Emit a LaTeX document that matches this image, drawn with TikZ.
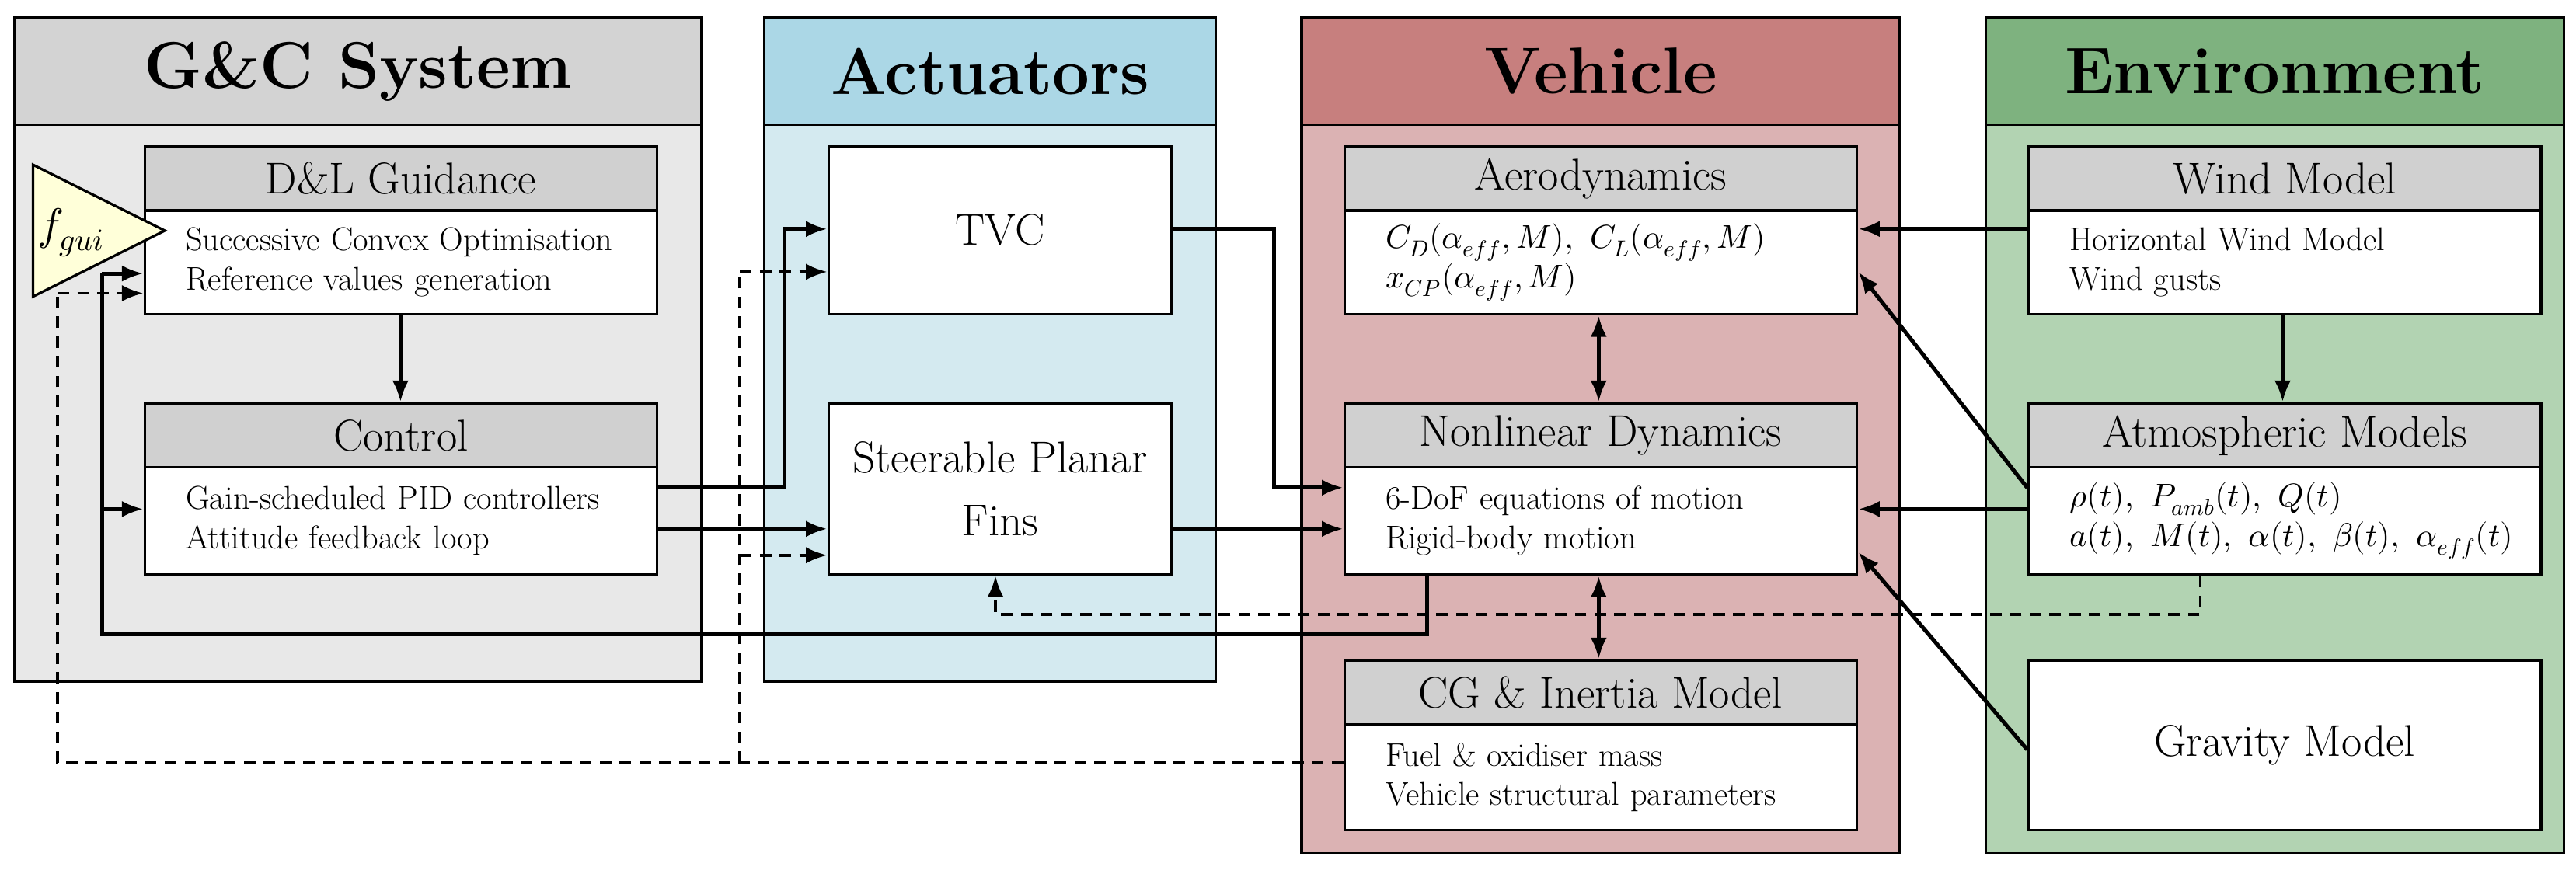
\documentclass[tikz,border=0pt]{standalone}
\usepackage{fontspec}
\usepackage{unicode-math}
\setmathfont{Latin Modern Math}
\usetikzlibrary{arrows.meta,shapes.geometric}
\definecolor{gch}{HTML}{D3D3D3}\definecolor{gcb}{HTML}{E8E8E8}
\definecolor{ach}{HTML}{ABD7E6}\definecolor{acb}{HTML}{D4EAF0}
\definecolor{veh}{HTML}{C77F7E}\definecolor{veb}{HTML}{DBB2B3}
\definecolor{enh}{HTML}{7EB27F}\definecolor{enb}{HTML}{B2D3B2}
\definecolor{hdr}{HTML}{D0D0D0}\definecolor{tri}{HTML}{FFFFD9}
\tikzset{
 panel/.style={draw,line width=1.5pt,anchor=north west,inner sep=0pt},
 ptitle/.style={panel,font=\fontsize{40}{44}\selectfont\bfseries},
 bhead/.style={draw,line width=1.5pt,fill=hdr,anchor=north west,inner sep=0pt,minimum width=311pt,minimum height=39pt,font=\fontsize{27}{30}\selectfont},
 bbody/.style={draw,line width=1.5pt,fill=white,anchor=north west,inner ysep=0pt,inner xsep=25pt,minimum width=311pt,text width=261pt,align=left,font=\fontsize{20}{24}\selectfont},
 plain/.style={draw,line width=1.5pt,fill=white,anchor=north west,inner sep=0pt,align=center,font=\fontsize{27}{38}\selectfont},
 ar/.style={line width=2.4pt,-{Latex[length=13pt,width=10pt]}},
 da/.style={line width=1.8pt,dash pattern=on 7pt off 5pt},
 dda/.style={da,-{Latex[length=13pt,width=10pt]}},
 ln/.style={line width=2.4pt},
}
\begin{document}
\begin{tikzpicture}[x=1pt,y=-1pt]
\useasboundingbox (0,0) rectangle (1563,528);
% panels
\node[panel,fill=gcb,minimum width=417pt,minimum height=403pt] (P1) at (8,10) {};
\node[ptitle,fill=gch,minimum width=417pt,minimum height=65pt] (T1) at (8,10) {G\&C System};
\node[panel,fill=acb,minimum width=274pt,minimum height=403pt] (P2) at (463,10) {};
\node[ptitle,fill=ach,minimum width=274pt,minimum height=65pt] (T2) at (463,10) {Actuators};
\node[panel,fill=veb,minimum width=363pt,minimum height=507pt] (P3) at (789,10) {};
\node[ptitle,fill=veh,minimum width=363pt,minimum height=65pt] (T3) at (789,10) {Vehicle};
\node[panel,fill=enb,minimum width=351pt,minimum height=507pt] (P4) at (1204,10) {};
\node[ptitle,fill=enh,minimum width=351pt,minimum height=65pt] (T4) at (1204,10) {Environment};
% G&C boxes
\node[bhead] (gh) at (87,88) {D\&L Guidance};
\node[bbody,minimum height=63pt] (g) at (87,127) {Successive Convex Optimisation\\Reference values generation};
\node[bhead] (ch) at (87,244) {Control};
\node[bbody,minimum height=65pt] (c) at (87,283) {Gain-scheduled PID controllers\\Attitude feedback loop};
\draw[line width=1.5pt,fill=tri] (20,100) -- (100,140) -- (20,180) -- cycle;
\node[font=\fontsize{27}{30}\selectfont] (f) at (43,141) {$f_{gui}$};
% actuators
\node[plain,minimum width=208pt,minimum height=102pt] (tvc) at (502,88) {TVC};
\node[plain,minimum width=208pt,minimum height=104pt] (fins) at (502,244) {Steerable Planar\\Fins};
% vehicle
\node[bhead] (ah) at (815,88) {Aerodynamics};
\node[bbody,minimum height=63pt] (a) at (815,127) {$C_D(\alpha_{eff},M),\ C_L(\alpha_{eff},M)$\\$x_{CP}(\alpha_{eff},M)$};
\node[bhead] (nh) at (815,244) {Nonlinear Dynamics};
\node[bbody,minimum height=65pt] (n) at (815,283) {6-DoF equations of motion\\Rigid-body motion};
\node[bhead] (cgh) at (815,400) {CG \& Inertia Model};
\node[bbody,minimum height=64pt] (cg) at (815,439) {Fuel \& oxidiser mass\\Vehicle structural parameters};
% environment
\node[bhead] (wh) at (1230,88) {Wind Model};
\node[bbody,minimum height=63pt] (w) at (1230,127) {Horizontal Wind Model\\Wind gusts};
\node[bhead] (amh) at (1230,244) {Atmospheric Models};
\node[bbody,minimum height=65pt] (am) at (1230,283) {$\rho(t),\ P_{amb}(t),\ Q(t)$\\$a(t),\ M(t),\ \alpha(t),\ \beta(t),\ \alpha_{eff}(t)$};
\node[plain,minimum width=311pt,minimum height=103pt] (grav) at (1230,400) {Gravity Model};
% solid connectors
\draw[ar] (g.south -| 243,0) -- (ch.north -| 243,0);
\draw[ar] (c.east |- 0,296) -- (476,296) -- (476,139) -- (tvc.west |- 0,139);
\draw[ar] (c.east |- 0,321) -- (fins.west |- 0,321);
\draw[ar] (tvc.east |- 0,139) -- (773,139) -- (773,296) -- (n.west |- 0,296);
\draw[ar] (fins.east |- 0,321) -- (n.west |- 0,321);
\draw[ln] (n.south -| 866,0) -- (866,385) -- (62,385) -- (62,166);
\draw[ar] (62,166) -- (g.west |- 0,166);
\draw[ar] (62,309) -- (c.west |- 0,309);
\draw[ar,{Latex[length=13pt,width=10pt]}-{Latex[length=13pt,width=10pt]}] (a.south -| 970,0) -- (nh.north -| 970,0);
\draw[ar,{Latex[length=13pt,width=10pt]}-{Latex[length=13pt,width=10pt]}] (n.south -| 970,0) -- (cgh.north -| 970,0);
\draw[ar] (w.west |- 0,139) -- (a.east |- 0,139);
\draw[ar] (w.south -| 1385,0) -- (amh.north -| 1385,0);
\draw[ar] (am.west |- 0,296) -- (a.east |- 0,165);
\draw[ar] (am.west |- 0,309) -- (n.east |- 0,309);
\draw[ar] (grav.west |- 0,455) -- (n.east |- 0,335);
% dashed connectors
\coordinate (dl) at (35,463);
\draw[da] (cg.west |- 0,463) -- (dl) -- (35,178);
\draw[dda] (35,178) -- (g.west |- 0,178);
\draw[da] (449,463) -- (449,165);
\draw[dda] (449,165) -- (tvc.west |- 0,165);
\draw[dda] (449,337) -- (fins.west |- 0,337);
\draw[dda] (am.south -| 1335,0) -- (1335,373) -- (604,373) -- (fins.south -| 604,0);
\end{tikzpicture}
\end{document}
